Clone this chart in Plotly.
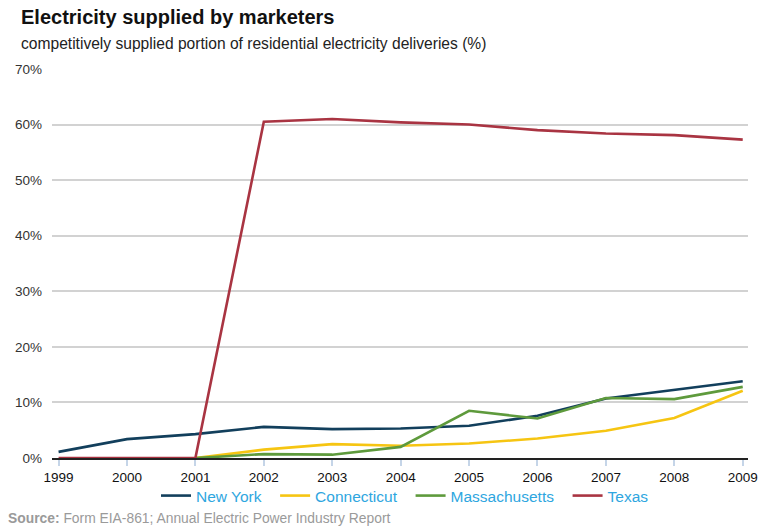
import plotly.graph_objects as go

years = [1999, 2000, 2001, 2002, 2003, 2004, 2005, 2006, 2007, 2008, 2009]
new_york = [1.1, 3.4, 4.3, 5.6, 5.2, 5.3, 5.8, 7.6, 10.7, 12.2, 13.8]
connecticut = [None, None, 0.0, 1.5, 2.5, 2.2, 2.6, 3.5, 4.9, 7.2, 12.1]
massachusetts = [None, None, 0.0, 0.7, 0.6, 2.0, 8.5, 7.1, 10.8, 10.6, 12.8]
texas = [0.0, 0.0, 0.0, 60.5, 61.0, 60.4, 60.0, 59.0, 58.4, 58.1, 57.3]
y_ticks = [0, 10, 20, 30, 40, 50, 60, 70]
y_labels = ["0%", "10%", "20%", "30%", "40%", "50%", "60%", "70%"]

series = [
    ("New York", new_york, "#123f5c"),
    ("Connecticut", connecticut, "#f6c512"),
    ("Massachusetts", massachusetts, "#5e9a3c"),
    ("Texas", texas, "#a93442"),
]

font_family = "Liberation Sans, Arial, sans-serif"

W, H = 760, 529
L, R, T, B = 52, 12, 69, 71
plot_h = H - T - B
plot_w = W - L - R


def py(p):
    return (H - B - p) / plot_h


def px(p):
    return (p - L) / plot_w


PAD = "\u00a0\u00a0"

fig = go.Figure()
for i, (name, vals, color) in enumerate(series):
    label = name + (PAD if i < len(series) - 1 else "")
    fig.add_trace(go.Scatter(
        x=years, y=vals, name=label, mode="lines",
        line=dict(color=color, width=2.6),
    ))

fig.update_layout(
    width=W, height=H,
    margin=dict(l=L, r=R, t=T, b=B, autoexpand=False),
    paper_bgcolor="white", plot_bgcolor="white",
    font=dict(family=font_family, size=12, color="#222"),
    showlegend=True,
    legend=dict(
        orientation="h", x=px(405), xanchor="center",
        y=py(496), yanchor="middle",
        font=dict(size=15.5, color="#2ea6e0", family=font_family),
        itemwidth=30, tracegroupgap=0,
        bgcolor="rgba(0,0,0,0)",
    ),
    xaxis=dict(
        range=[1998.904, 2009.077], automargin=False,
        tickmode="array", tickvals=years, ticktext=[str(y) for y in years],
        showgrid=False, zeroline=False,
        showline=True, linecolor="#222", linewidth=1.5,
        ticks="outside", ticklen=6, tickcolor="#c5d5e8", tickwidth=2,
        tickfont=dict(size=13.5, color="#111"),
    ),
    yaxis=dict(
        range=[0, 70], automargin=False,
        tickmode="array", tickvals=y_ticks, ticktext=y_labels,
        showgrid=True, gridcolor="#d2d2d2", gridwidth=1.5,
        zeroline=False, showline=False,
        ticks="", ticklabelstandoff=9,
        tickfont=dict(size=13.5, color="#333"),
    ),
    annotations=[
        dict(text="<b>Electricity supplied by marketers</b>",
             xref="paper", yref="paper", x=px(19), y=py(17),
             xanchor="left", yanchor="middle", showarrow=False,
             font=dict(size=20, color="#111", family=font_family)),
        dict(text="competitively supplied portion of residential electricity deliveries (%)",
             xref="paper", yref="paper", x=px(19), y=py(44),
             xanchor="left", yanchor="middle", showarrow=False,
             font=dict(size=15.6, color="#222", family=font_family)),
        dict(text="<b>Source:</b> Form EIA-861; Annual Electric Power Industry Report",
             xref="paper", yref="paper", x=px(6), y=py(518),
             xanchor="left", yanchor="middle", showarrow=False,
             font=dict(size=13.85, color="#9a9a9a", family=font_family)),
    ],
)

fig.write_html(
    "out.html",
    config={"displayModeBar": False},
    post_script="document.body.style.margin='0';document.body.style.overflow='hidden';",
)
